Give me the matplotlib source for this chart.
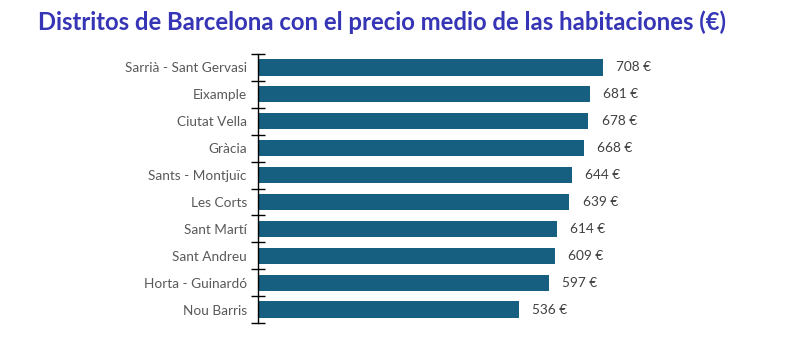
import numpy as np
import matplotlib
matplotlib.use('agg')
import matplotlib.pyplot as plt

districts = ['Sarrià - Sant Gervasi', 'Eixample', 'Ciutat Vella', 'Gràcia', 'Sants - Montjuïc',
             'Les Corts', 'Sant Martí', 'Sant Andreu', 'Horta - Guinardó', 'Nou Barris']
prices = [708, 681, 678, 668, 644, 639, 614, 609, 597, 536]

plt.rcParams['font.family'] = ['Lato', 'DejaVu Sans']

fig = plt.figure(figsize=(7.98, 3.38), dpi=100)
ax = fig.add_axes([258/798, 1-323/338, 502/798, 269/338])

y = np.arange(len(districts))
ax.barh(y, prices, height=0.6, color='#175F80')
ax.set_ylim(len(districts)-0.5, -0.5)
ax.set_xlim(0, 1030)

for i, p in enumerate(prices):
    ax.text(p + 27, i, '%d €' % p, va='center', ha='left', fontsize=9.8, color='#404040')

ax.set_yticks(y)
ax.set_yticklabels(districts, fontsize=9.8, color='#595959')
ax.tick_params(axis='y', which='major', length=0, pad=8)
ax.set_yticks(np.arange(-0.5, len(districts)), minor=True)
ax.tick_params(axis='y', which='minor', direction='inout', length=10, width=1, color='black')
ax.set_xticks([])
for s in ['top', 'right', 'bottom']:
    ax.spines[s].set_visible(False)
ax.spines['left'].set_linewidth(1)

fig.text(382/798, 1-22/338, 'Distritos de Barcelona con el precio medio de las habitaciones (€)',
         ha='center', va='center', fontsize=17.2, fontweight='bold', color='#3535B5')

plt.savefig('out.png', dpi=100)
plt.close()
